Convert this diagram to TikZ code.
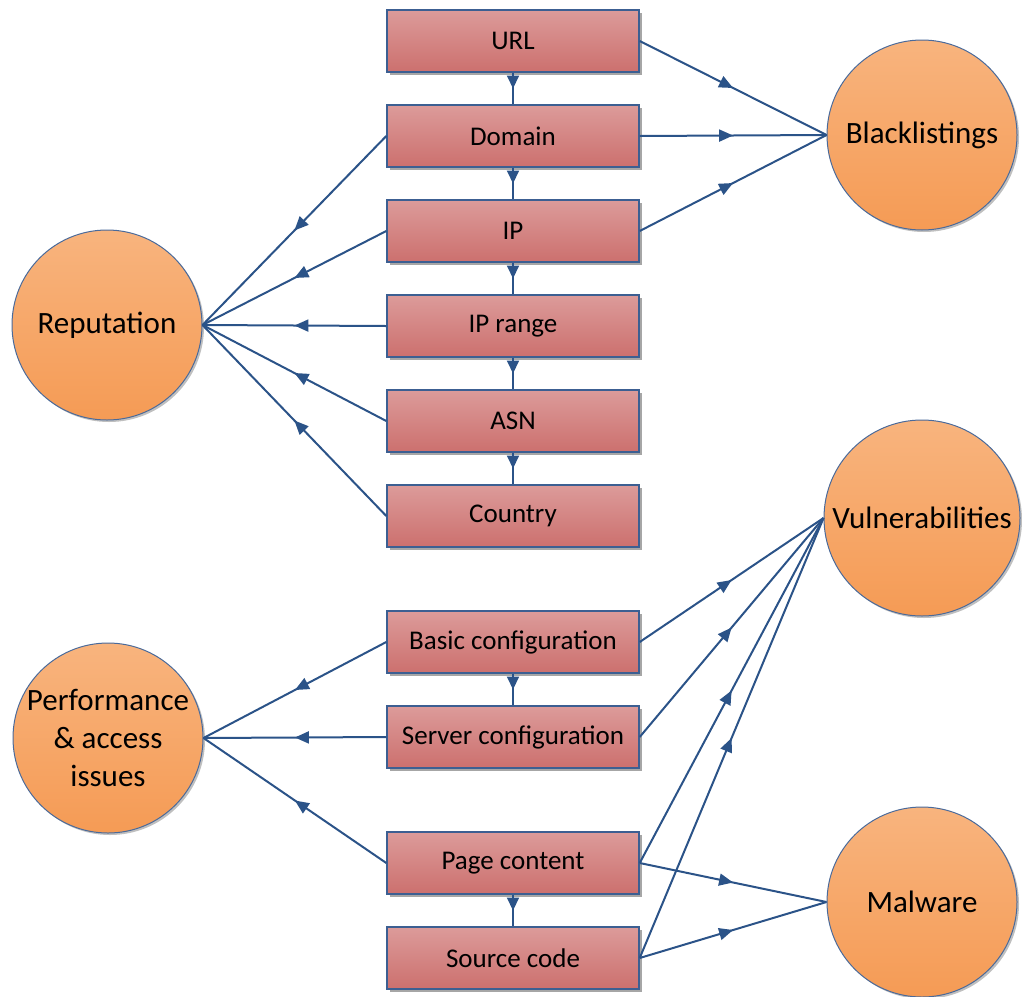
\documentclass[tikz,border=0pt]{standalone}
\usepackage{fontspec}
\setmainfont{Carlito}
\usetikzlibrary{arrows.meta,decorations.markings,shadows}
\definecolor{linkblue}{HTML}{2B5388}
\definecolor{boxedge}{HTML}{3C5F92}
\definecolor{boxtop}{HTML}{DC9B9A}
\definecolor{boxbot}{HTML}{CC706E}
\definecolor{circedge}{HTML}{4A6A9A}
\definecolor{circtop}{HTML}{F8B47E}
\definecolor{circbot}{HTML}{F59B55}
\tikzset{
  item/.style={rectangle, minimum width=252pt, minimum height=62pt, inner sep=0pt,
    draw=boxedge, line width=1.4pt, top color=boxtop, bottom color=boxbot,
    font=\fontsize{27}{32}\selectfont,
    drop shadow={shadow xshift=3pt, shadow yshift=-3pt, fill=black, opacity=0.35}},
  topic/.style={circle, minimum size=190pt, inner sep=0pt, align=center,
    draw=circedge, line width=1pt, top color=circtop, bottom color=circbot,
    font=\fontsize{31}{38}\selectfont,
    drop shadow={shadow xshift=2pt, shadow yshift=-2pt, fill=black, opacity=0.25}},
  link/.style={draw=linkblue, line width=2pt, postaction={decorate},
    decoration={markings, mark=at position 0.5 with {\arrow[linkblue]{Triangle[length=14pt,width=12pt]}}}},
  chain/.style={draw=linkblue, line width=2pt, postaction={decorate},
    decoration={markings, mark=at position 0.5 with {\arrow[linkblue]{Triangle[length=13pt,width=12pt]}}}}
}
\begin{document}
\begin{tikzpicture}[x=1pt,y=-1pt]
\useasboundingbox (0,0) rectangle (1022,996);

% attribute boxes
\node[item] (url)  at (513,41)  {URL};
\node[item] (dom)  at (513,136) {Domain};
\node[item] (ip)   at (513,231) {IP};
\node[item] (ipr)  at (513,326) {IP range};
\node[item] (asn)  at (513,421) {ASN};
\node[item] (ctry) at (513,516) {Country};
\node[item] (basic) at (513,642) {Basic configuration};
\node[item] (serv)  at (513,737) {Server configuration};
\node[item] (page)  at (513,863) {Page content};
\node[item] (src)   at (513,958) {Source code};

% topic circles
\node[topic] (black) at (922,135) {Blacklistings};
\node[topic] (rep)   at (107,325) {Reputation};
\node[topic, minimum size=196pt] (vuln) at (922,518) {Vulnerabilities};
\node[topic] (perf)  at (108,738) {Performance\\\& access\\issues};
\node[topic] (mal)   at (922,902) {Malware};

% hierarchy of attributes
\foreach \a/\b in {url/dom, dom/ip, ip/ipr, ipr/asn, asn/ctry, basic/serv, page/src}
  \draw[chain] (\a.south) -- (\b.north);

% blacklistings
\foreach \a in {url, dom, ip}
  \draw[link] (\a.east) -- (black.west);

% reputation
\foreach \a in {dom, ip, ipr, asn, ctry}
  \draw[link] (\a.west) -- (rep.east);

% vulnerabilities
\foreach \a in {basic, serv, page, src}
  \draw[link] (\a.east) -- (vuln.west);

% performance and access issues
\foreach \a in {basic, serv, page}
  \draw[link] (\a.west) -- (perf.east);

% malware
\foreach \a in {page, src}
  \draw[link] (\a.east) -- (mal.west);
\end{tikzpicture}
\end{document}
